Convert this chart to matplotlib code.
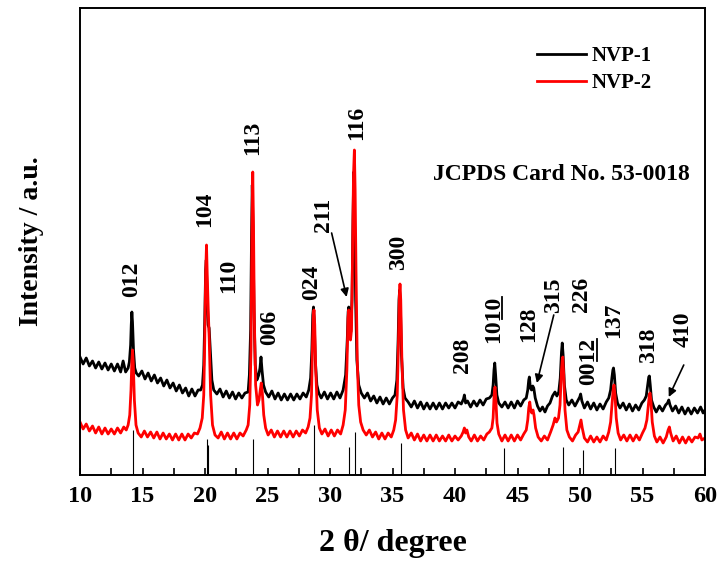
import matplotlib
matplotlib.use("Agg")
from matplotlib import pyplot as plt
from matplotlib.lines import Line2D
from matplotlib.ticker import MultipleLocator

plt.rcParams['font.family'] = ['Liberation Serif', 'DejaVu Serif']
plt.rcParams['font.weight'] = 'bold'

# NVP-1 pattern (2theta, intensity a.u.)
nvp1_points = [
    (10.0, 118), (10.25, 111), (10.5, 117), (10.75, 109), (11.0, 114), (11.25, 107),
    (11.5, 113), (11.75, 106), (12.0, 112), (12.25, 105), (12.5, 111), (12.75, 104),
    (13.0, 111), (13.25, 103), (13.45, 114), (13.65, 103), (13.85, 107), (13.95, 113),
    (14.05, 130), (14.1, 150), (14.15, 163), (14.2, 153), (14.28, 125), (14.38, 107),
    (14.5, 102), (14.7, 99), (14.95, 104), (15.2, 96), (15.45, 102), (15.7, 94),
    (15.95, 100), (16.2, 92), (16.45, 97), (16.7, 89), (16.95, 95), (17.2, 87),
    (17.45, 92), (17.7, 84), (17.95, 90), (18.2, 82), (18.45, 87), (18.7, 79),
    (18.95, 86), (19.2, 79), (19.45, 85), (19.65, 85), (19.8, 90), (19.9, 110),
    (19.98, 155), (20.05, 205), (20.1, 215), (20.16, 185), (20.25, 150), (20.33, 147),
    (20.42, 125), (20.55, 95), (20.7, 85), (20.95, 81), (21.2, 86), (21.45, 78),
    (21.7, 84), (21.95, 77), (22.2, 83), (22.45, 76), (22.7, 82), (22.95, 77),
    (23.2, 82), (23.45, 83), (23.55, 100), (23.65, 145), (23.72, 235), (23.78, 290),
    (23.84, 245), (23.92, 165), (24.02, 110), (24.15, 95), (24.3, 100), (24.4, 107),
    (24.48, 118), (24.56, 105), (24.68, 90), (24.85, 83), (25.1, 78), (25.35, 84),
    (25.6, 76), (25.85, 82), (26.1, 75), (26.35, 81), (26.6, 75), (26.85, 81),
    (27.1, 75), (27.35, 81), (27.6, 76), (27.85, 82), (28.1, 78), (28.3, 85),
    (28.45, 97), (28.55, 125), (28.62, 160), (28.68, 168), (28.74, 155), (28.82, 115),
    (28.95, 90), (29.1, 82), (29.3, 77), (29.55, 83), (29.8, 76), (30.05, 82),
    (30.3, 76), (30.55, 83), (30.8, 77), (31.05, 85), (31.25, 100), (31.38, 135),
    (31.45, 163), (31.5, 168), (31.58, 153), (31.66, 143), (31.76, 175), (31.84, 255),
    (31.9, 303), (31.96, 260), (32.05, 175), (32.15, 115), (32.3, 90), (32.5, 82),
    (32.75, 77), (33.0, 82), (33.25, 74), (33.5, 79), (33.75, 72), (34.0, 78),
    (34.25, 71), (34.5, 77), (34.75, 71), (35.0, 77), (35.2, 80), (35.35, 95),
    (35.45, 135), (35.52, 175), (35.57, 185), (35.63, 170), (35.72, 120), (35.85, 87),
    (36.0, 77), (36.25, 73), (36.5, 68), (36.75, 74), (37.0, 67), (37.25, 73),
    (37.5, 66), (37.75, 72), (38.0, 66), (38.25, 72), (38.5, 66), (38.75, 72),
    (39.0, 66), (39.25, 72), (39.5, 67), (39.75, 72), (40.0, 67), (40.25, 73),
    (40.5, 71), (40.68, 76), (40.75, 80), (40.85, 72), (41.0, 74), (41.25, 68),
    (41.5, 74), (41.75, 69), (42.0, 75), (42.25, 70), (42.5, 76), (42.75, 77),
    (42.95, 80), (43.05, 90), (43.12, 105), (43.18, 112), (43.25, 100), (43.35, 80),
    (43.5, 72), (43.75, 68), (44.0, 73), (44.25, 67), (44.5, 73), (44.75, 67),
    (45.0, 74), (45.25, 69), (45.5, 75), (45.7, 77), (45.82, 85), (45.9, 95),
    (45.95, 98), (46.03, 87), (46.12, 85), (46.22, 89), (46.3, 87), (46.42, 77),
    (46.6, 69), (46.8, 64), (47.0, 68), (47.2, 63), (47.4, 69), (47.6, 72),
    (47.8, 79), (48.0, 83), (48.15, 79), (48.3, 83), (48.42, 97), (48.52, 123),
    (48.58, 132), (48.65, 120), (48.75, 90), (48.9, 75), (49.1, 70), (49.35, 75),
    (49.6, 69), (49.85, 75), (49.98, 78), (50.05, 81), (50.15, 74), (50.35, 67),
    (50.6, 73), (50.85, 66), (51.1, 72), (51.35, 65), (51.6, 71), (51.85, 66),
    (52.1, 73), (52.3, 77), (52.45, 85), (52.55, 97), (52.63, 105), (52.68, 107),
    (52.75, 100), (52.85, 82), (53.0, 72), (53.2, 67), (53.45, 72), (53.7, 65),
    (53.95, 71), (54.2, 64), (54.45, 70), (54.7, 65), (54.95, 72), (55.15, 75),
    (55.3, 79), (55.42, 90), (55.5, 98), (55.55, 99), (55.62, 90), (55.72, 75),
    (55.9, 68), (56.1, 63), (56.35, 69), (56.6, 64), (56.85, 70), (57.0, 72),
    (57.1, 75), (57.2, 70), (57.4, 64), (57.65, 69), (57.9, 62), (58.15, 68),
    (58.4, 61), (58.65, 67), (58.9, 61), (59.15, 67), (59.4, 62), (59.65, 68),
    (59.85, 62), (60.0, 65),
]

# NVP-2 pattern (2theta, intensity a.u.)
nvp2_points = [
    (10.0, 53), (10.25, 46), (10.5, 51), (10.75, 44), (11.0, 49), (11.25, 42),
    (11.5, 48), (11.75, 41), (12.0, 47), (12.25, 41), (12.5, 46), (12.75, 41),
    (13.0, 47), (13.25, 42), (13.5, 48), (13.7, 45), (13.85, 50), (13.98, 60),
    (14.08, 85), (14.15, 115), (14.2, 125), (14.26, 113), (14.35, 75), (14.48, 50),
    (14.65, 42), (14.9, 38), (15.15, 44), (15.4, 38), (15.65, 43), (15.9, 37),
    (16.15, 43), (16.4, 36), (16.65, 42), (16.9, 36), (17.15, 41), (17.4, 35),
    (17.65, 41), (17.9, 35), (18.15, 41), (18.4, 35), (18.65, 41), (18.9, 37),
    (19.15, 42), (19.4, 41), (19.6, 47), (19.78, 57), (19.9, 80), (19.98, 135),
    (20.05, 200), (20.12, 230), (20.18, 200), (20.26, 165), (20.34, 135), (20.45, 80),
    (20.6, 50), (20.8, 40), (21.05, 37), (21.3, 43), (21.55, 36), (21.8, 42),
    (22.05, 36), (22.3, 42), (22.55, 36), (22.8, 42), (23.05, 39), (23.3, 45),
    (23.45, 50), (23.58, 70), (23.68, 125), (23.75, 235), (23.82, 303), (23.88, 250),
    (23.95, 155), (24.05, 90), (24.2, 70), (24.32, 75), (24.42, 85), (24.5, 92),
    (24.58, 83), (24.7, 60), (24.85, 47), (25.05, 40), (25.3, 45), (25.55, 38),
    (25.8, 44), (26.05, 38), (26.3, 44), (26.55, 38), (26.8, 44), (27.05, 38),
    (27.3, 44), (27.55, 39), (27.8, 45), (28.05, 42), (28.25, 48), (28.4, 57),
    (28.52, 80), (28.6, 130), (28.67, 160), (28.72, 165), (28.78, 150), (28.86, 105),
    (28.98, 65), (29.15, 47), (29.35, 41), (29.6, 46), (29.85, 39), (30.1, 45),
    (30.35, 39), (30.6, 45), (30.85, 41), (31.05, 50), (31.22, 65), (31.35, 105),
    (31.44, 157), (31.5, 165), (31.56, 155), (31.64, 135), (31.72, 145), (31.8, 215),
    (31.88, 300), (31.95, 325), (32.01, 285), (32.08, 205), (32.18, 115), (32.3, 70),
    (32.45, 53), (32.65, 45), (32.9, 40), (33.15, 45), (33.4, 38), (33.65, 43),
    (33.9, 36), (34.15, 42), (34.4, 36), (34.65, 42), (34.9, 38), (35.1, 45),
    (35.25, 55), (35.38, 80), (35.48, 135), (35.55, 180), (35.6, 191), (35.66, 175),
    (35.75, 115), (35.88, 65), (36.05, 45), (36.25, 37), (36.5, 42), (36.75, 35),
    (37.0, 41), (37.25, 34), (37.5, 40), (37.75, 34), (38.0, 40), (38.25, 34),
    (38.5, 40), (38.75, 34), (39.0, 39), (39.25, 34), (39.5, 40), (39.75, 34),
    (40.0, 39), (40.25, 35), (40.5, 39), (40.65, 43), (40.75, 47), (40.85, 42),
    (40.95, 45), (41.1, 38), (41.3, 34), (41.55, 40), (41.8, 34), (42.05, 39),
    (42.3, 35), (42.55, 41), (42.75, 43), (42.95, 47), (43.05, 57), (43.13, 80),
    (43.2, 88), (43.27, 75), (43.36, 52), (43.5, 41), (43.75, 34), (44.0, 40),
    (44.25, 34), (44.5, 40), (44.75, 34), (45.0, 40), (45.25, 35), (45.5, 41),
    (45.7, 45), (45.82, 55), (45.9, 67), (45.98, 73), (46.06, 65), (46.14, 62),
    (46.24, 65), (46.32, 60), (46.45, 47), (46.65, 38), (46.9, 34), (47.15, 39),
    (47.4, 35), (47.65, 43), (47.85, 50), (48.0, 57), (48.12, 53), (48.28, 57),
    (48.4, 70), (48.52, 105), (48.58, 115), (48.62, 118), (48.7, 100), (48.8, 65),
    (48.95, 45), (49.15, 38), (49.4, 34), (49.65, 40), (49.85, 43), (49.98, 50),
    (50.08, 55), (50.18, 47), (50.35, 37), (50.6, 33), (50.85, 39), (51.1, 33),
    (51.35, 38), (51.6, 33), (51.85, 39), (52.1, 35), (52.3, 43), (52.45, 53),
    (52.56, 70), (52.65, 85), (52.72, 90), (52.8, 80), (52.9, 57), (53.05, 42),
    (53.25, 35), (53.5, 40), (53.75, 34), (54.0, 40), (54.25, 34), (54.5, 40),
    (54.75, 35), (55.0, 42), (55.2, 47), (55.35, 55), (55.47, 70), (55.55, 80),
    (55.6, 82), (55.67, 75), (55.78, 53), (55.95, 39), (56.15, 33), (56.4, 38),
    (56.65, 32), (56.9, 38), (57.05, 45), (57.15, 48), (57.25, 42), (57.45, 34),
    (57.7, 39), (57.95, 32), (58.2, 38), (58.45, 32), (58.7, 38), (58.95, 33),
    (59.2, 38), (59.45, 37), (59.6, 41), (59.75, 35), (60.0, 37),
]

# JCPDS 53-0018 reference lines
jcpds_pos = [14.26, 20.13, 20.27, 23.82, 28.75, 31.55, 32.0, 35.7, 43.9, 48.6, 50.25, 52.8]
jcpds_int = [45, 36, 30, 36, 50, 28, 43, 32, 27, 28, 25, 27]

# peak index labels: text, 2theta, label baseline; underline = trailing digits underlined
hkl_text = ["012", "104", "110", "113", "006", "024", "211", "116", "300", "208",
            "1010", "128", "315", "226", "0012", "137", "318", "410"]
hkl_under = [0, 0, 0, 0, 0, 0, 0, 0, 0, 0, 2, 0, 0, 0, 2, 0, 0, 0]
hkl_x = [14.13, 20.0, 21.85, 23.8, 25.2, 28.55, 29.45, 32.1, 35.5, 40.6,
         43.1, 45.85, 47.85, 50.15, 50.7, 52.7, 55.5, 58.25]
hkl_y = [178, 248, 182, 320, 130, 175, 243, 335, 205, 102,
         132, 133, 162, 163, 90, 137, 112, 128]

# arrows (tail -> head)
arrows = [((30.13, 242), (31.33, 178)),
          ((47.9, 160), (46.55, 92)),
          ((58.3, 110), (57.1, 78))]

x1, y1 = zip(*nvp1_points)
x2, y2 = zip(*nvp2_points)

fig = plt.figure(figsize=(7.21, 5.68), dpi=100)
ax = fig.add_axes([80 / 721, 1 - 475 / 568, 625 / 721, 467 / 568])

ax.plot(x1, y1, color='black', lw=2.0, label="NVP-1")
ax.plot(x2, y2, color='red', lw=2.0, label="NVP-2")
ax.vlines(jcpds_pos, 0, jcpds_int, color='black', lw=0.8)

hkl_artists = []
for t, x, y in zip(hkl_text, hkl_x, hkl_y):
    hkl_artists.append(ax.text(x, y, t, rotation=90, ha='center', va='bottom',
                               fontsize=17, fontweight='bold'))

for tail, head in arrows:
    ax.annotate('', xy=head, xytext=tail,
                arrowprops=dict(arrowstyle='-|>', color='black', lw=1.2,
                                mutation_scale=12, shrinkA=0, shrinkB=0))

ax.text(0.565, 0.643, "JCPDS Card No. 53-0018", transform=ax.transAxes,
        ha='left', va='center', fontsize=17, fontweight='bold')

ax.legend(loc='upper left', bbox_to_anchor=(0.731, 0.919), frameon=False,
          fontsize=15, handlelength=2.35, handletextpad=0.3, labelspacing=0.35,
          borderpad=0, borderaxespad=0)

ax.set_xlim(10, 60)
ax.set_ylim(0, 467)
ax.xaxis.set_major_locator(MultipleLocator(5))
ax.xaxis.set_minor_locator(MultipleLocator(2.5))
ax.tick_params(axis='x', which='both', direction='in', length=5, width=1.2,
               labelsize=17.5, pad=8, top=False)
ax.set_yticks([])
for s in ax.spines.values():
    s.set_linewidth(1.4)

ax.set_xlabel("2 θ/ degree", fontsize=23, fontweight='bold', labelpad=16)
ax.set_ylabel("Intensity / a.u.", fontsize=20, fontweight='bold', labelpad=26)

# underline the last digits of the two-digit indices (rotated text -> line on the right side)
fig.canvas.draw()
renderer = fig.canvas.get_renderer()
inv = fig.transFigure.inverted()
for art, t, n in zip(hkl_artists, hkl_text, hkl_under):
    if n == 0:
        continue
    bb = art.get_window_extent(renderer)
    frac = n / len(t)
    xl = bb.x1 - 2
    p0 = inv.transform((xl, bb.y1 - frac * bb.height))
    p1 = inv.transform((xl, bb.y1 - 1))
    fig.add_artist(Line2D([p0[0], p1[0]], [p0[1], p1[1]], color='black', lw=1.3))

plt.savefig("out.png", dpi=100)
